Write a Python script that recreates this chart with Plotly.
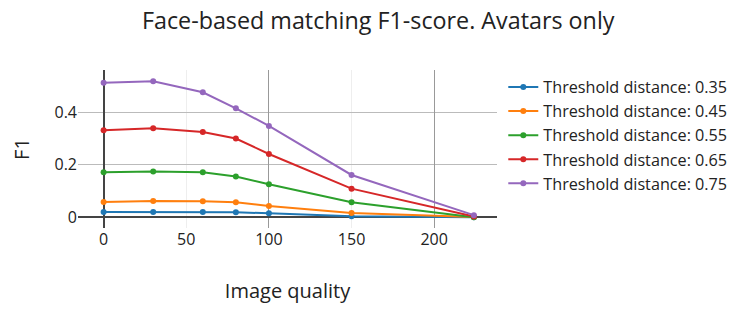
import plotly.graph_objects as go

quality = [0, 30, 60, 80, 100, 150, 224]
thresholds = ["0.35", "0.45", "0.55", "0.65", "0.75"]
f1_035 = [0.020, 0.020, 0.020, 0.019, 0.015, 0.004, 0.000]
f1_045 = [0.058, 0.062, 0.061, 0.057, 0.043, 0.016, 0.001]
f1_055 = [0.171, 0.174, 0.171, 0.155, 0.126, 0.057, 0.000]
f1_065 = [0.331, 0.339, 0.325, 0.300, 0.241, 0.109, 0.003]
f1_075 = [0.512, 0.518, 0.476, 0.415, 0.348, 0.161, 0.008]
series = [f1_035, f1_045, f1_055, f1_065, f1_075]
colors = ["#1f77b4", "#ff7f0e", "#2ca02c", "#d62728", "#9467bd"]

fig = go.Figure()
for t, vals, c in zip(thresholds, series, colors):
    fig.add_trace(go.Scatter(x=quality, y=vals, mode="lines+markers",
                             name=f"Threshold distance: {t}",
                             line=dict(color=c, width=2), marker=dict(size=6)))
# invisible trace on overlay axis to draw darker grid at 100, 200
fig.add_trace(go.Scatter(x=[], y=[], xaxis="x2", showlegend=False))

fig.update_layout(
    template="none",
    width=736, height=301,
    font=dict(family="Open Sans", size=16.5, color="#222"),
    title=dict(text="Face-based matching F1-score. Avatars only", x=0.503, xanchor="center",
               y=0.958, yanchor="middle", font=dict(size=23.3)),
    margin=dict(l=70, r=247, t=62, b=81, autoexpand=False),
    xaxis=dict(title=dict(text="Image quality", standoff=34),
               range=[-15.5, 238], automargin=False, tickfont=dict(size=16),
               tickvals=[0, 50, 100, 150, 200], showgrid=True, gridcolor="#eee",
               zeroline=True, zerolinecolor="#444", zerolinewidth=2, showline=False, ticks=""),
    xaxis2=dict(overlaying="x", matches="x", tickvals=[100, 200], showticklabels=False,
                automargin=False,
                showgrid=True, gridcolor="#999", zeroline=False, showline=False, ticks=""),
    yaxis=dict(title=dict(text="F1", standoff=25), range=[-0.041, 0.561],
               automargin=False, tickvals=[0, 0.2, 0.4], tickfont=dict(size=16),
               ticktext=["0", "0.2", "0.4"], showgrid=True, gridcolor="#bbb",
               zeroline=True, zerolinecolor="#444", zerolinewidth=2, showline=False, ticks=""),
    legend=dict(x=1.015, y=1, font=dict(size=16.2)),
    plot_bgcolor="white", paper_bgcolor="white",
)
fig.write_html("out.html")
